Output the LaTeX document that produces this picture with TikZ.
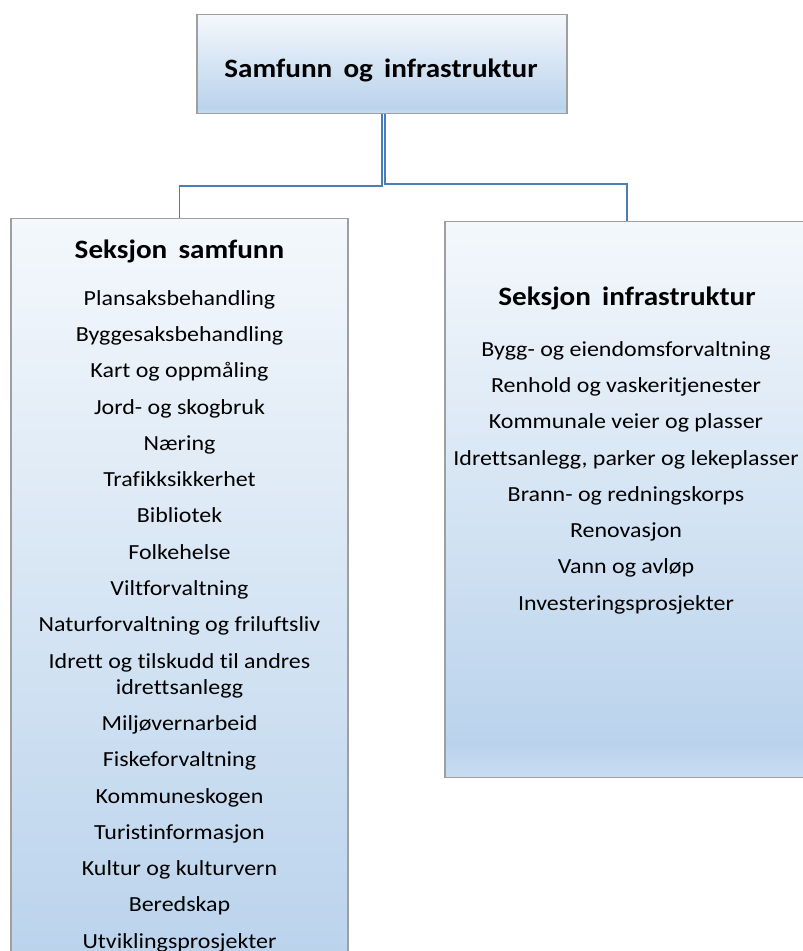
\documentclass[tikz,border=0pt]{standalone}
\usepackage{fontspec}
\setmainfont{Carlito}[FakeStretch=1.115, Ligatures=NoCommon]
\newfontfamily\headfont{Carlito}[FakeStretch=1.1, WordSpace=1.7, Ligatures=NoCommon]

\definecolor{boxtop}{HTML}{F4F8FC}
\definecolor{boxmid}{HTML}{BAD3EC}
\definecolor{boxbot}{HTML}{C9DDF0}
\definecolor{linkblue}{HTML}{4A7EBB}
\pgfdeclareverticalshading{boxshade}{100bp}{color(0bp)=(boxbot); color(25bp)=(boxbot); color(28bp)=(boxmid); color(75bp)=(boxtop); color(100bp)=(boxtop)}

\begin{document}
\begin{tikzpicture}[x=1pt, y=-1pt,
	orgbox/.style={draw=gray!75, line width=1.3pt, shading=boxshade, rectangle, anchor=north, inner sep=0pt},
	heading/.style={font=\headfont\fontsize{26.5}{31}\selectfont\bfseries, anchor=base, inner sep=0pt},
	itemlist/.style={font=\fontsize{21.5}{26}\selectfont, align=center, anchor=north, inner sep=0pt},
	link/.style={draw=linkblue, line width=1.8pt}]
	
	\useasboundingbox (0,0) rectangle (803,951);
	
	% boxes
	\node[orgbox, minimum width=370, minimum height=99] (top) at (382,14) {};
	\node[orgbox, minimum width=337, minimum height=790] (samfunn) at (179.5,218) {};
	\node[orgbox, minimum width=364, minimum height=556] (infra) at (627,221) {};
	
	% connectors
	\draw[link] (top.south) -- ++(0,72) -| (samfunn.north);
	\draw[link] ([xshift=3]top.south) -- ++(0,70) -| (infra.north);
	
	% texts
	\node[heading] (toptitle) at (381,77) {Samfunn og infrastruktur};
	\node[heading] (samfunntitle) at (179.5,258) {Seksjon samfunn};
	\node[heading] (infratitle) at (627,305) {Seksjon infrastruktur};
	
	\node[itemlist] (samfunnlist) at (179.5,290) {Plansaksbehandling\\[10.3pt]
		Byggesaksbehandling\\[10.3pt]
		Kart og oppmåling\\[10.3pt]
		Jord- og skogbruk\\[10.3pt]
		Næring\\[10.3pt]
		Trafikksikkerhet\\[10.3pt]
		Bibliotek\\[10.3pt]
		Folkehelse\\[10.3pt]
		Viltforvaltning\\[10.3pt]
		Naturforvaltning og friluftsliv\\[10.3pt]
		Idrett og tilskudd til andres\\
		idrettsanlegg\\[10.3pt]
		Miljøvernarbeid\\[10.3pt]
		Fiskeforvaltning\\[10.3pt]
		Kommuneskogen\\[10.3pt]
		Turistinformasjon\\[10.3pt]
		Kultur og kulturvern\\[10.3pt]
		Beredskap\\[10.3pt]
		Utviklingsprosjekter};
	
	\node[itemlist] (infralist) at (626,341) {Bygg- og eiendomsforvaltning\\[10.3pt]
		Renhold og vaskeritjenester\\[10.3pt]
		Kommunale veier og plasser\\[10.3pt]
		Idrettsanlegg, parker og lekeplasser\\[10.3pt]
		Brann- og redningskorps\\[10.3pt]
		Renovasjon\\[10.3pt]
		Vann og avløp\\[10.3pt]
		Investeringsprosjekter};
	
\end{tikzpicture}
\end{document}
